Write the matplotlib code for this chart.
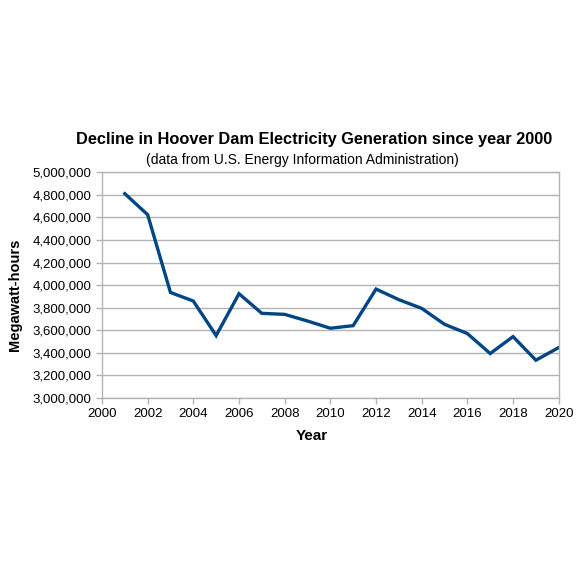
import matplotlib
matplotlib.use('Agg')
import matplotlib.pyplot as plt
from matplotlib.ticker import FuncFormatter

years = [2001, 2002, 2003, 2004, 2005, 2006, 2007, 2008, 2009, 2010,
         2011, 2012, 2013, 2014, 2015, 2016, 2017, 2018, 2019, 2020]
mwh = [4810000, 4624000, 3935000, 3859000, 3553000, 3924000, 3750000, 3741000,
       3682000, 3618000, 3641000, 3965000, 3871000, 3794000, 3653000, 3571000,
       3394000, 3544000, 3335000, 3447000]

plt.rcParams['font.family'] = ['Liberation Sans', 'DejaVu Sans']
grey = '#b3b3b3'

fig = plt.figure(figsize=(5.76, 5.76), dpi=100)
ax = fig.add_axes([0.177, 0.309, 0.793, 0.392])

ax.plot(years, mwh, color='#004586', lw=2.4, solid_joinstyle='miter')

ax.set_xlim(2000, 2020)
ax.set_ylim(3000000, 5000000)
ax.set_xticks(range(2000, 2021, 2))
ax.set_yticks(range(3000000, 5000001, 200000))
ax.yaxis.set_major_formatter(FuncFormatter(lambda v, p: f"{int(v):,}"))
ax.grid(axis='y', color=grey, lw=1)
ax.set_axisbelow(True)
for s in ax.spines.values():
    s.set_color(grey)
    s.set_linewidth(1)
ax.tick_params(colors=grey, labelcolor='black', labelsize=9.5, length=4, width=1)

# axis titles placed like the original (not centred on the axes)
fig.text(0.541, 0.243, "Year", ha='center', va='center',
         fontsize=11, fontweight='bold')
fig.text(0.026, 0.488, "Megawatt-hours", ha='center', va='center',
         rotation=90, fontsize=10.5, fontweight='bold')

fig.text(0.545, 0.757, "Decline in Hoover Dam Electricity Generation since year 2000",
         ha='center', va='center', fontsize=11.8, fontweight='bold')
fig.text(0.525, 0.722, "(data from U.S. Energy Information Administration)",
         ha='center', va='center', fontsize=10)

plt.savefig("out.png", dpi=100)
